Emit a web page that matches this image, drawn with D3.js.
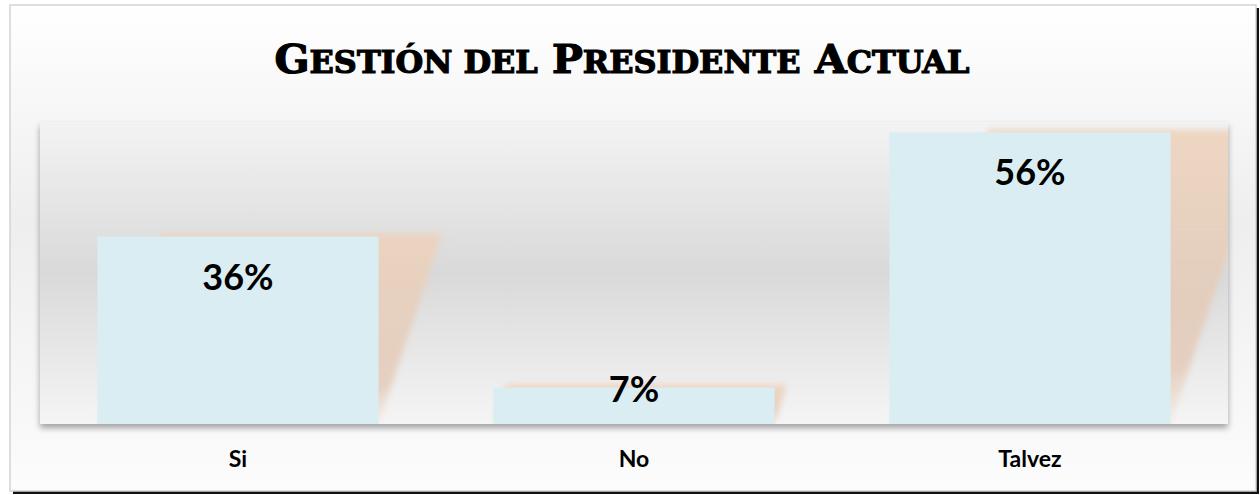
<!DOCTYPE html>
<html>
<head>
<meta charset="utf-8">
<script src="https://cdn.jsdelivr.net/npm/d3@7"></script>
<style>
  body { margin: 0; background: #ffffff; }
  svg { display: block; }
  .value-text { font-family: Lato, "Open Sans", sans-serif; font-weight: bold; font-size: 36px; fill: #000; }
  .cat-text { font-family: Lato, "Open Sans", sans-serif; font-weight: bold; font-size: 23px; fill: #000; }
  .title-text { font-family: "DejaVu Serif Condensed", "DejaVu Serif", serif; font-weight: bold; fill: #000; stroke: #000; stroke-width: 1.1px; }
</style>
</head>
<body>
<svg id="chart" width="1260" height="495"></svg>
<script>
// chart data
const categories = ["Si", "No", "Talvez"];
const values = [0.36, 0.07, 0.56];
const valueLabels = ["36%", "7%", "56%"];
const titleWords = [["G", "ESTIÓN"], ["", "DEL"], ["P", "RESIDENTE"], ["A", "CTUAL"]];

function drawChart(svgId) {
    var svg = d3.select("#" + svgId);
    var defs = svg.append("defs");

    // frame and plot area geometry
    const frame = { x: 10, y: 5, w: 1246, h: 486 };
    const plot = { left: 40, right: 1228, top: 122, bottom: 424 };

    // gradients
    var bgGrad = defs.append("linearGradient").attr("id", "bgGrad")
        .attr("x1", 0).attr("y1", 0).attr("x2", 0).attr("y2", 1);
    bgGrad.append("stop").attr("offset", "0%").attr("stop-color", "#ffffff");
    bgGrad.append("stop").attr("offset", "45%").attr("stop-color", "#eeeeee");
    bgGrad.append("stop").attr("offset", "100%").attr("stop-color", "#fcfcfc");

    var plotGrad = defs.append("linearGradient").attr("id", "plotGrad")
        .attr("x1", 0).attr("y1", 0).attr("x2", 0).attr("y2", 1);
    plotGrad.append("stop").attr("offset", "0%").attr("stop-color", "#f3f3f3");
    plotGrad.append("stop").attr("offset", "50%").attr("stop-color", "#d9d9d9");
    plotGrad.append("stop").attr("offset", "100%").attr("stop-color", "#f5f5f5");

    var shadowGrad = defs.append("linearGradient").attr("id", "shadowGrad")
        .attr("x1", 0).attr("y1", 0).attr("x2", 0).attr("y2", 1);
    shadowGrad.append("stop").attr("offset", "0%").attr("stop-color", "#edd3bd").attr("stop-opacity", 0.9);
    shadowGrad.append("stop").attr("offset", "80%").attr("stop-color", "#e2c6b2").attr("stop-opacity", 0.75);
    shadowGrad.append("stop").attr("offset", "100%").attr("stop-color", "#f0d8c6").attr("stop-opacity", 0.3);

    defs.append("filter").attr("id", "plotShadow")
        .attr("x", "-5%").attr("y", "-5%").attr("width", "110%").attr("height", "115%")
        .append("feDropShadow")
        .attr("dx", 0).attr("dy", 4).attr("stdDeviation", 3)
        .attr("flood-color", "#000").attr("flood-opacity", 0.35);

    defs.append("filter").attr("id", "blur")
        .attr("x", "-20%").attr("y", "-20%").attr("width", "140%").attr("height", "140%")
        .append("feGaussianBlur").attr("stdDeviation", 3);

    defs.append("clipPath").attr("id", "plotClip")
        .append("rect")
        .attr("x", plot.left).attr("y", plot.top)
        .attr("width", plot.right - plot.left).attr("height", plot.bottom - plot.top);

    // outer frame with dark offset edge
    svg.append("rect")
        .attr("x", frame.x + 3).attr("y", frame.y + 3)
        .attr("width", frame.w).attr("height", frame.h)
        .attr("fill", "#111");
    svg.append("rect")
        .attr("x", frame.x).attr("y", frame.y)
        .attr("width", frame.w).attr("height", frame.h)
        .attr("fill", "url(#bgGrad)")
        .attr("stroke", "#d4d4d4")
        .attr("stroke-width", 1.5);

    // title in small caps
    var title = svg.append("text")
        .attr("class", "title-text")
        .attr("x", 622)
        .attr("y", 73)
        .attr("text-anchor", "middle")
        .attr("textLength", 695)
        .attr("lengthAdjust", "spacingAndGlyphs");
    titleWords.forEach(function(w, i) {
        if (w[0] != "")
            title.append("tspan").attr("font-size", 40).text((i > 0 ? " " : "") + w[0]);
        title.append("tspan").attr("font-size", 31).text((w[0] == "" && i > 0 ? " " : "") + w[1]);
    });

    // plot area
    svg.append("rect")
        .attr("x", plot.left).attr("y", plot.top)
        .attr("width", plot.right - plot.left).attr("height", plot.bottom - plot.top)
        .attr("fill", "url(#plotGrad)")
        .attr("filter", "url(#plotShadow)");

    var x = d3.scaleBand()
        .domain(categories)
        .range([plot.left, plot.right])
        .paddingInner(0.29)
        .paddingOuter(0.145);

    var y = d3.scaleLinear()
        .domain([0, 0.58])
        .range([plot.bottom, plot.top]);

    // skewed peach shadows behind the bars
    svg.append("g")
        .attr("clip-path", "url(#plotClip)")
        .selectAll("path")
        .data(values)
        .enter().append("path")
        .attr("d", function(d, i) {
            var x0 = x(categories[i]), x1 = x0 + x.bandwidth();
            var top = y(d) - 3, h = y(0) - y(d);
            var off = h * 0.34;
            return `M${x0 + off},${top}L${x1 + off},${top}L${x1},${y(0)}L${x0},${y(0)}Z`;
        })
        .attr("fill", "url(#shadowGrad)")
        .attr("filter", "url(#blur)");

    // bars
    svg.append("g")
        .selectAll("rect")
        .data(values)
        .enter().append("rect")
        .attr("x", function(d, i) { return x(categories[i]); })
        .attr("y", function(d) { return y(d); })
        .attr("width", x.bandwidth())
        .attr("height", function(d) { return y(0) - y(d); })
        .attr("fill", "#daedf3");

    // value labels
    svg.append("g")
        .selectAll("text")
        .data(values)
        .enter().append("text")
        .attr("class", "value-text")
        .attr("text-anchor", "middle")
        .attr("x", function(d, i) { return x(categories[i]) + x.bandwidth() / 2; })
        .attr("y", function(d) { return Math.min(y(d) + 53, y(0) - 22); })
        .text(function(d, i) { return valueLabels[i]; });

    // category axis (labels only)
    var axis = svg.append("g")
        .attr("transform", `translate(0, ${plot.bottom})`)
        .call(d3.axisBottom(x).tickSize(0).tickPadding(27));
    axis.select(".domain").remove();
    axis.selectAll("text")
        .attr("class", "cat-text")
        .attr("font-family", null)
        .attr("font-size", null)
        .attr("fill", null);
}

drawChart("chart");
</script>
</body>
</html>
